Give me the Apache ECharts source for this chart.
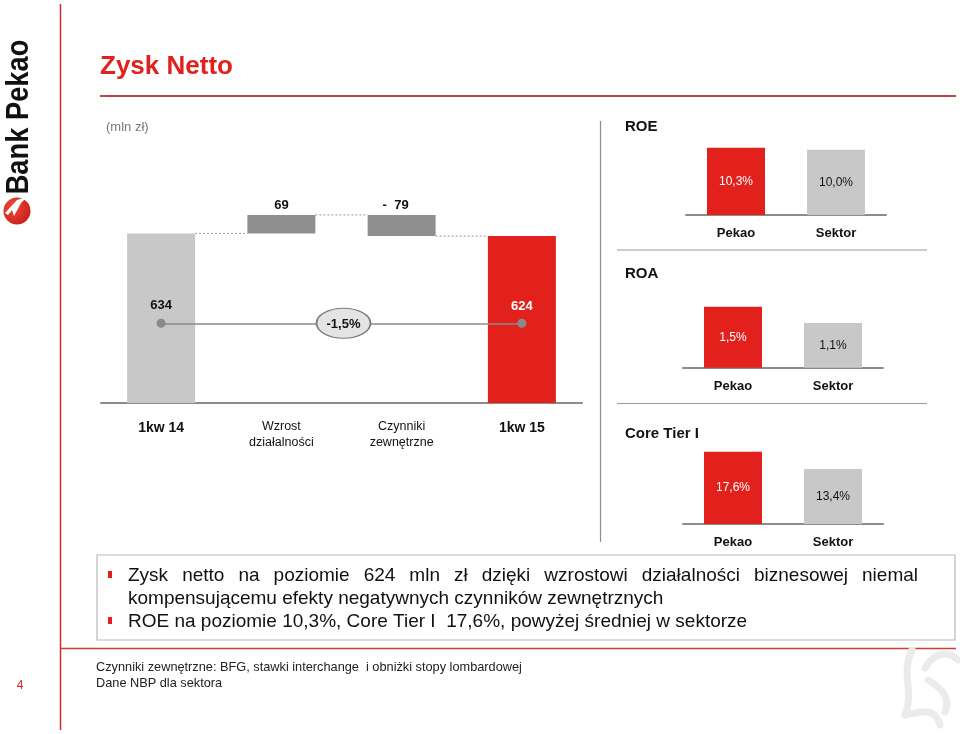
<!DOCTYPE html>
<html><head><meta charset="utf-8">
<script src="https://cdn.jsdelivr.net/npm/echarts@6/dist/echarts.min.js"></script>
<style>html,body{margin:0;padding:0;background:#fff}#c{width:960px;height:734px}</style>
</head><body><div id="c"></div><script>
// ---------- data ----------
const wfCategories = ['1kw 14', 'Wzrost\ndziałalności', 'Czynniki\nzewnętrzne', '1kw 15'];
const wfValues = [634, 69, -79, 624];          // start total, change, change, end total
const wfChangeLabel = '-1,5%';
const cmpCategories = ['Pekao', 'Sektor'];
const roeValues = [10.3, 10.0];
const roaValues = [1.5, 1.1];
const ctiValues = [17.6, 13.4];
const panelTitles = ['ROE', 'ROA', 'Core Tier I'];
const titleText = 'Zysk Netto';
const unitText = '(mln zł)';
const bulletLines = [
  { bullet: true, justify: true, text: 'Zysk netto na poziomie 624 mln zł dzięki wzrostowi działalności biznesowej niemal' },
  { bullet: false, justify: false, text: 'kompensującemu efekty negatywnych czynników zewnętrznych' },
  { bullet: true, justify: false, text: 'ROE na poziomie 10,3%, Core Tier I  17,6%, powyżej średniej w sektorze' }
];
const footnotes = ['Czynniki zewnętrzne: BFG, stawki interchange  i obniżki stopy lombardowej', 'Dane NBP dla sektora'];
const pageNumber = '4';
const logoText = 'Bank Pekao';

// ---------- style ----------
const FONT = '"Liberation Sans", Arial, Helvetica, sans-serif';
const RED = '#e2211c', LIGHT = '#c8c8c8', DARK = '#8f8f8f', AXIS = '#8c8c8c';

// waterfall base / visible heights
const wfBase = [], wfHeight = [];
let run = 0;
wfValues.forEach((v, i) => {
  if (i === 0 || i === wfValues.length - 1) { wfBase.push(0); wfHeight.push(v); run = v; }
  else if (v >= 0) { wfBase.push(run); wfHeight.push(v); run += v; }
  else { wfBase.push(run + v); wfHeight.push(-v); run += v; }
});
const wfColors = wfValues.map((v, i) => i === 0 ? LIGHT : (i === wfValues.length - 1 ? RED : DARK));

const chart = echarts.init(document.getElementById('c'));

function pctFmt(p) { return p.value.toFixed(1).replace('.', ',') + '%'; }
function smallBar(values, gi) {
  return {
    type: 'bar', xAxisIndex: gi, yAxisIndex: gi, barWidth: 58,
    data: values.map((v, i) => ({ value: v, itemStyle: { color: i === 0 ? RED : LIGHT },
      label: { color: i === 0 ? '#fff' : '#111' } })),
    label: { show: true, position: 'inside', fontFamily: FONT, fontSize: 12, formatter: pctFmt }
  };
}
const smallX = gi => ({
  type: 'category', gridIndex: gi, data: cmpCategories,
  axisLine: { lineStyle: { color: AXIS, width: 2 } }, axisTick: { show: false },
  axisLabel: { margin: 12, fontFamily: FONT, fontSize: 13, fontWeight: 'bold', color: '#111' }
});
const hiddenY = (gi, max) => ({ type: 'value', gridIndex: gi, min: 0, max: max, show: false, splitLine: { show: false } });

const option = {
  animation: false,
  backgroundColor: '#fff',
  grid: [
    { left: 101, top: 189, width: 481, height: 214 },
    { left: 686, top: 136.6, width: 200, height: 78.4 },
    { left: 683, top: 286.4, width: 200, height: 81.3 },
    { left: 683, top: 441.8, width: 200, height: 82.2 }
  ],
  xAxis: [
    { type: 'category', gridIndex: 0, data: wfCategories,
      axisLine: { lineStyle: { color: AXIS, width: 2 } }, axisTick: { show: false },
      axisLabel: { margin: 16, interval: 0, color: '#111',
        formatter: (v, i) => (i === 0 || i === wfCategories.length - 1) ? '{b|' + v + '}' : '{n|' + v + '}',
        rich: { b: { fontFamily: FONT, fontSize: 14, fontWeight: 'bold', lineHeight: 18, color: '#111' },
                n: { fontFamily: FONT, fontSize: 12.5, lineHeight: 16, color: '#111' } } } },
    smallX(1), smallX(2), smallX(3)
  ],
  yAxis: [hiddenY(0, 800), hiddenY(1, 12), hiddenY(2, 2), hiddenY(3, 20)],
  series: [
    { type: 'bar', stack: 'wf', xAxisIndex: 0, yAxisIndex: 0, barWidth: 68, silent: true,
      itemStyle: { color: 'transparent' }, data: wfBase },
    { type: 'bar', stack: 'wf', xAxisIndex: 0, yAxisIndex: 0, barWidth: 68,
      data: wfHeight.map((h, i) => {
        const total = (i === 0 || i === wfValues.length - 1);
        return { value: h, itemStyle: { color: wfColors[i] },
          label: total ? { position: 'inside', offset: [0, -13], color: i === 0 ? '#111' : '#fff' }
                       : { position: 'top', distance: 3, color: '#111', offset: wfValues[i] < 0 ? [-6, 0] : [0, 0] } };
      }),
      label: { show: true, fontFamily: FONT, fontSize: 13, fontWeight: 'bold',
        formatter: p => { const v = wfValues[p.dataIndex]; return v < 0 ? '-  ' + Math.abs(v) : String(v); } },
      markLine: { silent: true, symbol: ['circle', 'circle'], symbolSize: 9, z: 5,
        label: { show: false }, lineStyle: { color: '#8a8a8a', width: 1.5, type: 'solid' },
        itemStyle: { color: '#8a8a8a' },
        data: [[{ coord: [0, 298] }, { coord: [wfCategories.length - 1, 298] }]] } },
    smallBar(roeValues, 1), smallBar(roaValues, 2), smallBar(ctiValues, 3)
  ]
};
chart.setOption(option);

// ---------- decorations computed from the chart's own scales ----------
const g = [];
const px = (i, v) => chart.convertToPixel({ seriesIndex: 1 }, [i, v]);
const halfW = 34;
let r2 = 0;
const tops = [];
wfValues.forEach((v, i) => { if (i === 0 || i === wfValues.length - 1) r2 = v; else r2 += v; tops.push(r2); });
for (let i = 0; i < wfValues.length - 1; i++) {
  const a = px(i, tops[i]), b = px(i + 1, tops[i]);
  g.push({ type: 'line', z: 10, shape: { x1: a[0] + halfW, y1: a[1], x2: b[0] - halfW, y2: b[1] },
    style: { stroke: '#9a9a9a', lineWidth: 1, lineDash: [2, 2] } });
}
const m1 = px(1, 298), m2 = px(2, 298);
const ex = (m1[0] + m2[0]) / 2 + 2, ey = m1[1];
g.push({ type: 'circle', z: 20, x: ex, y: ey, scaleX: 1.8, shape: { cx: 0, cy: 0, r: 15 },
  style: { fill: '#e4e4e4', stroke: '#7a7a7a', lineWidth: 1, strokeNoScale: true } });
g.push({ type: 'text', z: 21, x: ex, y: ey + 1, style: { text: wfChangeLabel, align: 'center', verticalAlign: 'middle',
  font: 'bold 13px ' + FONT, fill: '#111' } });

// titles & texts
g.push({ type: 'text', x: 100, y: 67, style: { text: titleText, font: 'bold 26px ' + FONT, fill: RED, verticalAlign: 'middle' } });
g.push({ type: 'text', x: 106, y: 127, style: { text: unitText, font: '13px ' + FONT, fill: '#777', verticalAlign: 'middle' } });
const titleY = [127, 274, 434];
panelTitles.forEach((t, i) => g.push({ type: 'text', x: 625, y: titleY[i],
  style: { text: t, font: 'bold 15px ' + FONT, fill: '#111', verticalAlign: 'middle' } }));

// frame lines
g.push({ type: 'line', shape: { x1: 60.5, y1: 4, x2: 60.5, y2: 730 }, style: { stroke: '#c9302c', lineWidth: 1.5 } });
g.push({ type: 'line', shape: { x1: 100, y1: 96, x2: 956, y2: 96 }, style: { stroke: '#bf4548', lineWidth: 2 } });
g.push({ type: 'line', shape: { x1: 600.5, y1: 121, x2: 600.5, y2: 542 }, style: { stroke: '#8c8c8c', lineWidth: 1.2 } });
g.push({ type: 'line', shape: { x1: 617, y1: 250, x2: 927, y2: 250 }, style: { stroke: '#9a9a9a', lineWidth: 1.2 } });
g.push({ type: 'line', shape: { x1: 617, y1: 403.5, x2: 927, y2: 403.5 }, style: { stroke: '#9a9a9a', lineWidth: 1.2 } });

// text box
g.push({ type: 'rect', shape: { x: 97, y: 555, width: 858, height: 85 }, style: { fill: '#fff', stroke: '#b8b8b8', lineWidth: 1.2 } });
const ctx = document.createElement('canvas').getContext('2d');
const bodyFont = '19px ' + FONT;
ctx.font = bodyFont;
const lineY = [576, 599, 622];
const textLeft = 128, textRight = 918;
bulletLines.forEach((ln, k) => {
  const y = lineY[k];
  if (ln.bullet) g.push({ type: 'rect', shape: { x: 108, y: y - 5, width: 4, height: 7 }, style: { fill: RED } });
  if (ln.justify) {
    const words = ln.text.split(' ');
    const ws = words.map(w => ctx.measureText(w).width);
    const gap = (textRight - textLeft - ws.reduce((a, b) => a + b, 0)) / (words.length - 1);
    let x = textLeft;
    words.forEach((w, j) => {
      g.push({ type: 'text', x: x, y: y, style: { text: w, font: bodyFont, fill: '#111', verticalAlign: 'middle' } });
      x += ws[j] + gap;
    });
  } else {
    g.push({ type: 'text', x: textLeft, y: y, style: { text: ln.text, font: bodyFont, fill: '#111', verticalAlign: 'middle' } });
  }
});
g.push({ type: 'line', shape: { x1: 60, y1: 648.5, x2: 956, y2: 648.5 }, style: { stroke: '#d0402e', lineWidth: 1.5 } });
footnotes.forEach((t, i) => g.push({ type: 'text', x: 96, y: 667 + i * 16,
  style: { text: t, font: '12.75px ' + FONT, fill: '#222', verticalAlign: 'middle' } }));
g.push({ type: 'text', x: 20, y: 686, style: { text: pageNumber, font: '12px ' + FONT, fill: RED, align: 'center', verticalAlign: 'middle' } });

// logo
g.push({ type: 'text', x: 19.5, y: 117, rotation: Math.PI / 2, scaleX: 0.88,
  style: { text: logoText, font: 'bold 31px ' + FONT, fill: '#111', align: 'center', verticalAlign: 'middle' } });
g.push({ type: 'circle', shape: { cx: 17, cy: 211, r: 13.5 },
  style: { fill: { type: 'radial', x: 0.35, y: 0.35, r: 0.8, colorStops: [{ offset: 0, color: '#f04a3c' }, { offset: 1, color: '#c41a14' }] } } });
g.push({ type: 'polygon', shape: { points: [[5, 213], [17, 200], [27, 197], [21, 203], [14, 216], [12, 210], [8, 215]] },
  style: { fill: '#fff' } });

// watermark
const wm = { stroke: '#ebebeb', lineWidth: 7, fill: null, lineCap: 'round' };
g.push({ type: 'bezierCurve', shape: { x1: 912, y1: 650, cpx1: 900, cpy1: 675, cpx2: 915, cpy2: 690, x2: 905, y2: 715 }, style: wm });
g.push({ type: 'bezierCurve', shape: { x1: 905, y1: 715, cpx1: 920, cpy1: 712, cpx2: 935, cpy2: 706, x2: 940, y2: 725 }, style: wm });
g.push({ type: 'bezierCurve', shape: { x1: 925, y1: 668, cpx1: 935, cpy1: 650, cpx2: 950, cpy2: 652, x2: 958, y2: 660 }, style: wm });
g.push({ type: 'bezierCurve', shape: { x1: 928, y1: 680, cpx1: 945, cpy1: 690, cpx2: 950, cpy2: 700, x2: 945, y2: 712 }, style: wm });

chart.setOption({ graphic: g });
</script></body></html>
